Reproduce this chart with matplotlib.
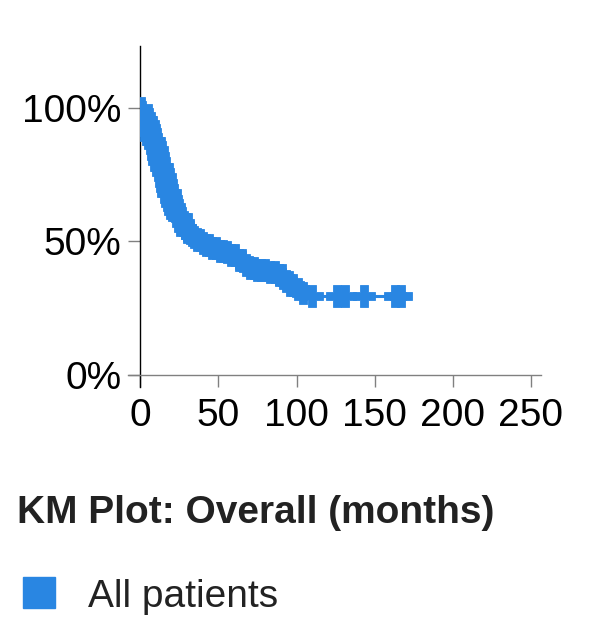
import numpy as np
import matplotlib
matplotlib.use("Agg")
import matplotlib.pyplot as plt
from matplotlib.patches import Rectangle

plt.rcParams["font.family"] = ["Liberation Sans", "DejaVu Sans"]

BLUE = "#2986e2"

# KM step curve (months, % surviving)
step_times = [0, 1, 2, 3, 4, 5, 6, 7, 8, 9, 10, 11, 12, 13, 14, 15, 16, 17, 18,
              19, 20, 21, 22, 23, 24, 26, 28, 30, 32, 34, 36, 39, 42, 46, 50,
              54, 58, 62, 66, 70, 75, 82, 88, 92, 95, 99, 103, 107]
step_surv = [100, 98.5, 97, 95.5, 94, 92.5, 91, 89, 87.5, 86, 84, 82, 80, 78,
             76, 74, 72, 70, 68, 66, 64.5, 63, 61.5, 60, 59, 57, 55, 53.5, 52.5,
             51.5, 50.5, 49.5, 48.5, 47.5, 46.5, 46, 45, 43, 41, 40, 39.3, 38.5,
             37.5, 35, 33.5, 32, 30.5, 29.4]

# censored patients (months)
censor_times = [0.3, 1.2, 2.1, 3.0, 3.8, 4.6, 5.5, 6.3, 7.1, 8.0, 8.8, 9.6,
                10.5, 11.3, 12.1, 13.0, 13.8, 14.6, 15.5, 16.3, 17.1, 18.0,
                18.8, 19.6, 20.5, 21.3, 22.2, 23.2, 24.5, 25.8, 27.2, 28.6,
                30.0, 31.5, 33.0, 34.6, 36.2, 38.0, 40.0, 42.0, 44.0, 46.0,
                48.5, 51.0, 53.0, 55.5, 58.0, 60.5, 63.0, 65.0, 67.5, 70.0,
                72.5, 75.0, 77.5, 80.0, 83.0, 86.0, 89.0, 91.0, 93.5, 96.0,
                98.0, 101.0, 104.0, 110.0, 125.6, 131.0, 142.9, 163.0, 167.0]
end_time = 167.0

x_ticks = [0, 50, 100, 150, 200, 250]
y_ticks = [0, 50, 100]
y_labels = ["0%", "50%", "100%"]

W, H = 603, 625
fig = plt.figure(figsize=(W / 100, H / 100), dpi=100)
ax = fig.add_axes([128.3 / W, 1 - 386.8 / H, 412.4 / W, 340.6 / H])

# plot region starts at the axes crossing, marks are clipped there
clip = Rectangle((0, 0), 256.3, 123, transform=ax.transData, visible=False)
ax.add_patch(clip)

t = np.array(step_times + [end_time])
s = np.array(step_surv + [step_surv[-1]])
line, = ax.plot(t, s, drawstyle="steps-post", color=BLUE, lw=2.2, zorder=2)
line.set_clip_path(clip)

ct = np.array(censor_times)
idx = np.searchsorted(np.array(step_times), ct, side="right") - 1
cs = np.array(step_surv)[idx]
marks, = ax.plot(ct, cs, ls="none", marker="P", ms=16, mew=0.6, color=BLUE,
                 zorder=3)
marks.set_clip_path(clip)

ax.set_xlim(-7.7, 256.3)
ax.set_ylim(-4.4, 123)
ax.spines["top"].set_visible(False)
ax.spines["right"].set_visible(False)
ax.spines["left"].set_position(("data", 0))
ax.spines["bottom"].set_position(("data", 0))
ax.spines["left"].set_color("black")
ax.spines["bottom"].set_color("#808080")
ax.spines["left"].set_linewidth(1.0)
ax.spines["bottom"].set_linewidth(1.0)
ax.patch.set_alpha(0)

ax.set_xticks(x_ticks)
ax.set_yticks(y_ticks)
ax.set_yticklabels(y_labels)
ax.tick_params(axis="x", direction="out", length=8.6, width=1, color="#808080",
               labelsize=28, pad=8)
ax.tick_params(axis="y", direction="out", length=8.6, width=1, color="#808080",
               labelsize=28, pad=5)

fig.text(17 / W, 1 - 523 / H, "KM Plot: Overall (months)", fontsize=28,
         fontweight="bold", color="#222222", va="baseline", ha="left")

fig.patches.append(Rectangle((23 / W, 1 - 608 / H), 32 / W, 31 / H,
                             transform=fig.transFigure, color=BLUE))
fig.text(88 / W, 1 - 607 / H, "All patients", fontsize=28, color="#222222",
         va="baseline", ha="left")

fig.savefig("out.png", dpi=100)
